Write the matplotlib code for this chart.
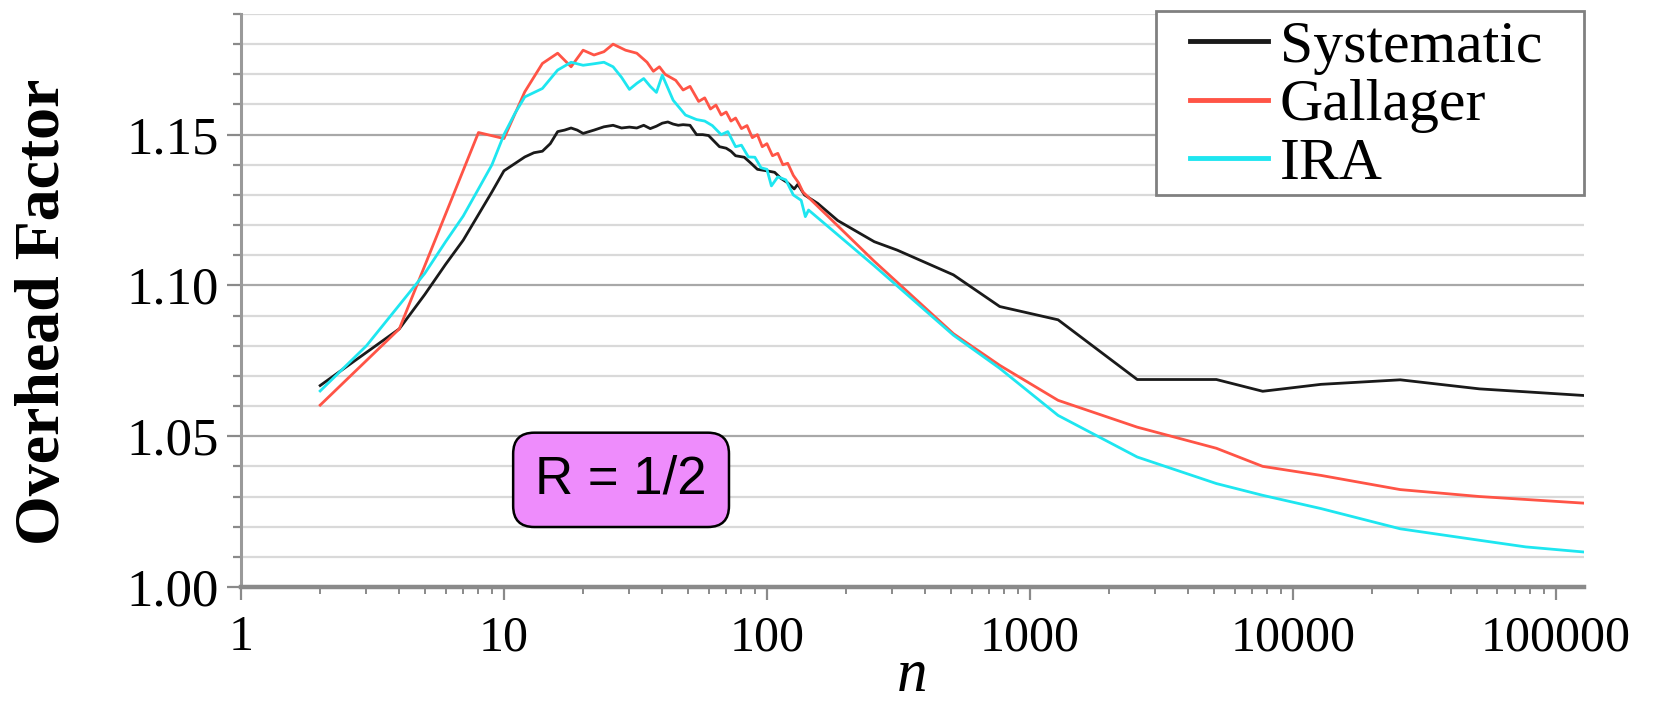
import matplotlib
matplotlib.use("Agg")
import matplotlib.pyplot as plt
from matplotlib.patches import Rectangle
from matplotlib.ticker import FixedLocator, LogLocator, NullFormatter, FixedFormatter

# ---------------- data ----------------
sys_n = [2, 4, 5, 6, 7, 8, 9, 10, 11, 12, 13, 14, 15, 16, 17, 18, 19, 20, 22, 24, 26, 28,
         30, 32, 34, 36, 38, 40, 42, 44, 46, 48, 51, 54, 57, 60, 63, 66, 70, 73, 76, 82,
         87, 92, 100, 107, 113, 120, 127, 131, 134, 139, 156, 186, 256, 313, 512, 768,
         1280, 2560, 5120, 7680, 12800, 25600, 51200, 128000]
sys_v = [1.0668, 1.0856, 1.0970, 1.1070, 1.1150, 1.1235, 1.1310, 1.1380, 1.1404, 1.1426,
         1.1440, 1.1445, 1.1470, 1.1510, 1.1515, 1.1522, 1.1515, 1.1504, 1.1515, 1.1526,
         1.1531, 1.1522, 1.1525, 1.1522, 1.1531, 1.1520, 1.1528, 1.1538, 1.1542, 1.1535,
         1.1531, 1.1533, 1.1531, 1.1500, 1.1500, 1.1497, 1.1478, 1.1460, 1.1455, 1.1445,
         1.1430, 1.1425, 1.1405, 1.1385, 1.1380, 1.1375, 1.1355, 1.1340, 1.1320, 1.1335,
         1.1322, 1.1300, 1.1272, 1.1215, 1.1145, 1.1117, 1.1035, 1.0930, 1.0886, 1.0688,
         1.0688, 1.0649, 1.0672, 1.0687, 1.0657, 1.0635]

gal_n = [2, 4, 8, 10, 12, 14, 16, 18, 20, 22, 24, 26, 29, 32, 35, 37, 39, 41, 45, 48, 51,
         55, 58, 61, 64, 67, 70, 73, 76, 80, 84, 88, 92, 96, 100, 105, 110, 115, 120, 126,
         132, 137, 256, 512, 768, 1280, 2560, 5120, 7680, 12800, 25600, 51200, 128000]
gal_v = [1.0603, 1.0856, 1.1507, 1.1487, 1.1642, 1.1736, 1.1770, 1.1725, 1.1780, 1.1764,
         1.1775, 1.1800, 1.1780, 1.1770, 1.1740, 1.1710, 1.1725, 1.1700, 1.1680, 1.1648,
         1.1660, 1.1610, 1.1622, 1.1585, 1.1598, 1.1565, 1.1575, 1.1545, 1.1555, 1.1520,
         1.1530, 1.1490, 1.1500, 1.1460, 1.1470, 1.1430, 1.1438, 1.1400, 1.1405, 1.1365,
         1.1340, 1.1310, 1.1080, 1.0840, 1.0735, 1.0619, 1.0530, 1.0460, 1.0400, 1.0370,
         1.0323, 1.0300, 1.0278]

ira_n = [2, 3, 4, 5, 6, 7, 8, 9, 10, 11, 12, 14, 16, 18, 20, 22, 24, 26, 28, 30, 32, 34,
         36, 38, 40, 44, 49, 54, 58, 62, 67, 71, 76, 80, 85, 90, 95, 100, 104, 110, 118,
         126, 135, 140, 144, 256, 512, 768, 1280, 2560, 5120, 7680, 12800, 25600, 51200,
         76800, 128000]
ira_v = [1.0650, 1.0800, 1.0935, 1.1040, 1.1145, 1.1230, 1.1320, 1.1400, 1.1500, 1.1570,
         1.1625, 1.1653, 1.1714, 1.1740, 1.1730, 1.1735, 1.1740, 1.1725, 1.1690, 1.1650,
         1.1670, 1.1686, 1.1660, 1.1640, 1.1697, 1.1614, 1.1565, 1.1550, 1.1545, 1.1530,
         1.1500, 1.1510, 1.1460, 1.1465, 1.1426, 1.1425, 1.1390, 1.1385, 1.1330, 1.1360,
         1.1350, 1.1300, 1.1282, 1.1228, 1.1250, 1.1065, 1.0835, 1.0725, 1.0569, 1.0431,
         1.0343, 1.0304, 1.0260, 1.0193, 1.0155, 1.0133, 1.0116]

series_labels = ["Systematic", "Gallager", "IRA"]
x_ticks = [1, 10, 100, 1000, 10000, 100000]
x_tick_labels = ["1", "10", "100", "1000", "10000", "100000"]
y_ticks = [1.00, 1.05, 1.10, 1.15]
y_tick_labels = ["1.00", "1.05", "1.10", "1.15"]

# ---------------- figure ----------------
W, H = 1659, 703
fig = plt.figure(figsize=(W / 100, H / 100), dpi=100)
ax = fig.add_axes([241 / W, 1 - 587 / H, (1584 - 241) / W, (587 - 14) / H])

serif = ["Liberation Serif", "DejaVu Serif"]

ax.plot(sys_n, sys_v, color="#1a1a1a", lw=2.0, label=series_labels[0], zorder=3)
ax.plot(gal_n, gal_v, color="#ff5446", lw=2.0, label=series_labels[1], zorder=4)
ax.plot(ira_n, ira_v, color="#1ee6f0", lw=2.0, label=series_labels[2], zorder=5)

ax.set_xscale("log")
ax.set_xlim(1, 128000)
ax.set_ylim(1.0, 1.19)

ax.xaxis.set_major_locator(FixedLocator(x_ticks))
ax.xaxis.set_major_formatter(FixedFormatter(x_tick_labels))
ax.xaxis.set_minor_locator(LogLocator(base=10, subs=range(2, 10), numticks=20))
ax.xaxis.set_minor_formatter(NullFormatter())

ax.yaxis.set_major_locator(FixedLocator(y_ticks))
ax.yaxis.set_major_formatter(FixedFormatter(y_tick_labels))
ax.yaxis.set_minor_locator(FixedLocator([1.0 + 0.01 * i for i in range(20)]))

ax.grid(True, axis="y", which="minor", color="#d9d9d9", lw=1.6, zorder=0)
ax.grid(True, axis="y", which="major", color="#a8a8a8", lw=1.6, zorder=0)
ax.set_axisbelow(True)

for s in ["top", "right"]:
    ax.spines[s].set_visible(False)
ax.spines["left"].set_color("#9a9a9a")
ax.spines["left"].set_linewidth(2.2)
ax.spines["bottom"].set_color("#8a8a8a")
ax.spines["bottom"].set_linewidth(3.2)

ax.tick_params(axis="y", which="major", length=10, width=1.6, color="#8a8a8a", pad=6)
ax.tick_params(axis="y", which="minor", length=6, width=1.6, color="#8a8a8a")
ax.tick_params(axis="x", which="major", length=9, width=1.6, color="#8a8a8a", pad=11)
ax.tick_params(axis="x", which="minor", length=5, width=1.4, color="#8a8a8a")

for lab in ax.get_xticklabels():
    lab.set_fontfamily(serif)
    lab.set_fontsize(36)
for lab in ax.get_yticklabels():
    lab.set_fontfamily(serif)
    lab.set_fontsize(38)

fig.text(44 / W, 1 - 312 / H, "Overhead Factor", rotation=90, ha="center", va="center",
         fontsize=46, fontweight="bold", family=serif)
fig.text(912 / W, 1 - 691 / H, "n", ha="center", va="baseline",
         fontsize=44, fontstyle="italic", family=serif)

# legend frame drawn separately so that its size matches the reference box
frame = Rectangle((1156 / W, 1 - 195 / H), (1584 - 1156) / W, (195 - 11) / H,
                  transform=fig.transFigure, facecolor="white", edgecolor="#808080",
                  linewidth=2.0, zorder=8)
fig.add_artist(frame)
leg = fig.legend(*ax.get_legend_handles_labels(), loc="upper left",
                 bbox_to_anchor=(1190 / W, 1 - 20 / H), bbox_transform=fig.transFigure,
                 prop={"family": serif, "size": 43}, frameon=False,
                 handlelength=1.3, handletextpad=0.2, labelspacing=0.065,
                 borderpad=0.0, borderaxespad=0)
leg.set_zorder(9)
for line in leg.get_lines():
    line.set_linewidth(3.5)

ax.text(0.283, 0.187, "R = 1/2", transform=ax.transAxes, ha="center", va="center",
        fontsize=38, family=["Liberation Sans", "DejaVu Sans"], zorder=6,
        bbox=dict(boxstyle="round,pad=0.42,rounding_size=0.4", facecolor="#ee8cfc",
                  edgecolor="black", linewidth=1.8))

fig.savefig("out.png", dpi=100)
